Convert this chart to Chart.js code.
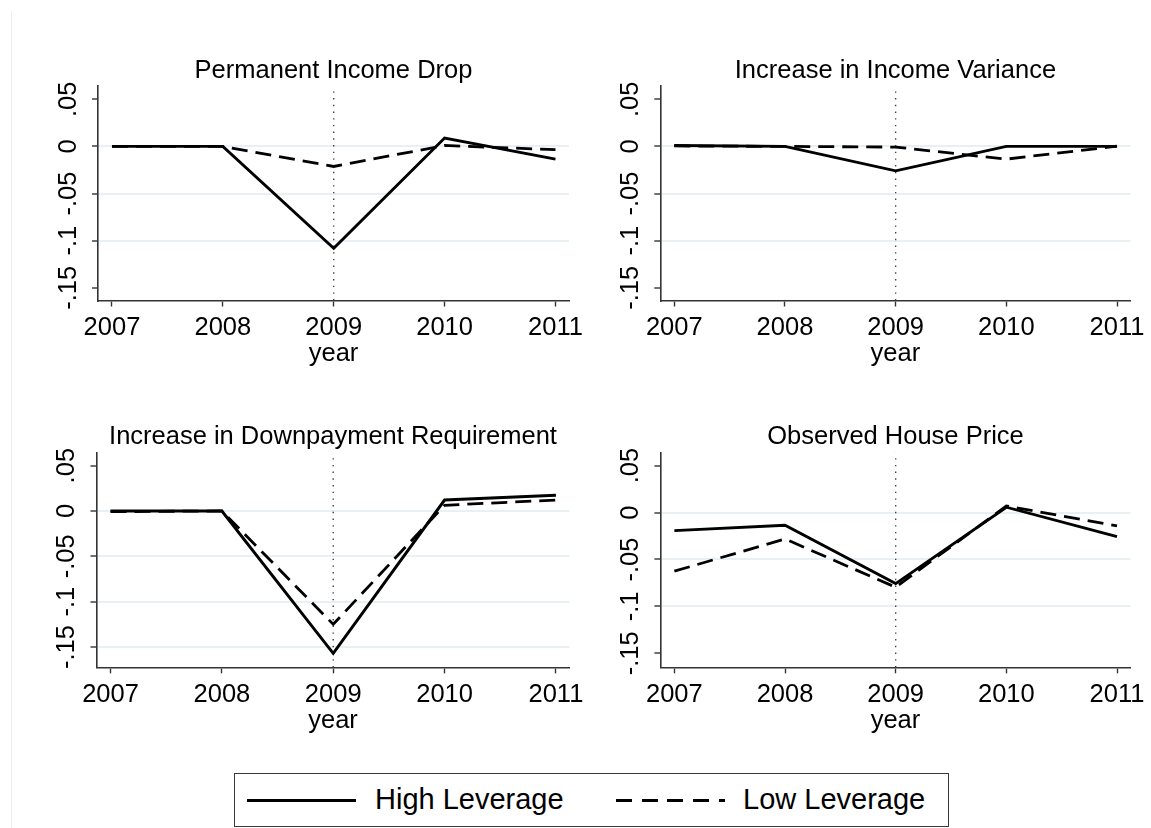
<!DOCTYPE html>
<html>
<head>
<meta charset="utf-8">
<title>Leverage panels</title>
<script src="https://cdn.jsdelivr.net/npm/chart.js@4.4.1/dist/chart.umd.min.js"></script>
<style>
  html, body { margin: 0; padding: 0; background: #fff; }
  #page {
    position: relative; width: 1151px; height: 828px; overflow: hidden;
    background: #fff; font-family: 'Liberation Sans', Arial, Helvetica, sans-serif;
  }
  canvas.panel { position: absolute; left: 0; top: 0; }
  #frame { position: absolute; left: 11px; top: 11px; height: 817px; border-left: 1px solid #e8eff2; }
  #legend {
    position: absolute; left: 234px; top: 773px; width: 715px; height: 54px;
    box-sizing: border-box; border: 1.5px solid #3a3a3a; background: #fff;
  }
  .key { position: absolute; height: 3px; top: 25px; }
  .key.solid { background: #000; }
  .key.dash { background: repeating-linear-gradient(90deg, #000 0 16px, transparent 16px 25.7px); }
  .lab { position: absolute; top: 11px; font-size: 29px; line-height: 29px; color: #000; white-space: nowrap; }
</style>
</head>
<body>
<div id="page">
  <div id="frame"></div>
  <canvas id="p0" class="panel" width="1151" height="828"></canvas>
  <canvas id="p1" class="panel" width="1151" height="828"></canvas>
  <canvas id="p2" class="panel" width="1151" height="828"></canvas>
  <canvas id="p3" class="panel" width="1151" height="828"></canvas>
  <div id="legend"></div>
</div>
<script>
// ---- values ----
const years = [2007, 2008, 2009, 2010, 2011];
const eventYear = 2009;
const xRange = [2006.874, 2011.122];
const yTickValues = [0.05, 0, -0.05, -0.1, -0.15];
const yTickLabels = ['.05', '0', '-.05', '-.1', '-.15'];
const seriesNames = ['High Leverage', 'Low Leverage'];
const panelTitles = [
  'Permanent Income Drop',
  'Increase in Income Variance',
  'Increase in Downpayment Requirement',
  'Observed House Price'
];

const highPermIncome = [0, 0, -0.108, 0.0089, -0.0135];
const lowPermIncome = [0, 0, -0.0213, 0.001, -0.0035];
const highIncomeVar = [0.001, 0, -0.0259, 0, 0];
const lowIncomeVar = [0.0005, 0, -0.0007, -0.0135, 0.0002];
const highDownpay = [0, 0, -0.157, 0.0121, 0.0173];
const lowDownpay = [-0.0007, 0, -0.125, 0.0063, 0.0121];
const highHousePrice = [-0.0192, -0.0135, -0.0757, 0.0057, -0.0256];
const lowHousePrice = [-0.0625, -0.0281, -0.0796, 0.0071, -0.0142];

const yRangePerm = [-0.1635, 0.0641];
const yRangeVar = [-0.1635, 0.0641];
const yRangeDown = [-0.1724, 0.0643];
const yRangeHouse = [-0.1649, 0.0638];

// gridlines are drawn only at interior ticks of each panel
const gridPerm = [0, -0.05, -0.1];
const gridVar = [0, -0.05, -0.1];
const gridDown = [0, -0.05, -0.1, -0.15];
const gridHouse = [0, -0.05, -0.1];

// ---- drawing ----
const FAMILY = "'Liberation Sans', Arial, Helvetica, sans-serif";
const W = 1151, H = 828;
const Y_AXIS_W = 60, X_AXIS_H = 70;

const panels = [
  { id: 'p0', title: panelTitles[0], high: highPermIncome, low: lowPermIncome, range: yRangePerm, grid: gridPerm,
    area: { left: 98, right: 569, top: 86, bottom: 300.5 } },
  { id: 'p1', title: panelTitles[1], high: highIncomeVar, low: lowIncomeVar, range: yRangeVar, grid: gridVar,
    area: { left: 660.3, right: 1132, top: 86, bottom: 300.5 } },
  { id: 'p2', title: panelTitles[2], high: highDownpay, low: lowDownpay, range: yRangeDown, grid: gridDown,
    area: { left: 96.5, right: 569.5, top: 452.7, bottom: 667.3 } },
  { id: 'p3', title: panelTitles[3], high: highHousePrice, low: lowHousePrice, range: yRangeHouse, grid: gridHouse,
    area: { left: 660.4, right: 1131.5, top: 452.7, bottom: 667.3 } }
];

// panel heading centred over the plot region
const panelTitle = {
  id: 'panelTitle',
  afterDraw(chart, args, opts) {
    const { ctx, chartArea } = chart;
    ctx.save();
    ctx.font = opts.size + 'px ' + FAMILY;
    ctx.fillStyle = '#000';
    ctx.textAlign = 'center';
    ctx.textBaseline = 'alphabetic';
    ctx.fillText(opts.text, (chartArea.left + chartArea.right) / 2, chartArea.top - opts.gap);
    ctx.restore();
  }
};

Chart.defaults.font.family = FAMILY;
Chart.defaults.color = '#000';

const toPoints = vals => years.map((yr, i) => ({ x: yr, y: vals[i] }));

panels.forEach(p => {
  const a = p.area;
  new Chart(document.getElementById(p.id), {
    type: 'line',
    data: {
      datasets: [
        {
          label: seriesNames[0], data: toPoints(p.high), order: 0,
          borderColor: '#000', borderWidth: 2.9, pointRadius: 0, tension: 0, fill: false
        },
        {
          label: seriesNames[1], data: toPoints(p.low), order: 1,
          borderColor: '#000', borderWidth: 2.8, borderDash: [16, 8], pointRadius: 0, tension: 0, fill: false
        },
        {
          label: 'event', data: [{ x: eventYear, y: p.range[0] }, { x: eventYear, y: p.range[1] }], order: 2,
          borderColor: '#444', borderWidth: 1.4, borderDash: [1.4, 5.3], pointRadius: 0, fill: false
        }
      ]
    },
    options: {
      responsive: false,
      animation: false,
      events: [],
      layout: {
        padding: {
          left: a.left - Y_AXIS_W,
          right: W - a.right,
          top: a.top,
          bottom: H - a.bottom - X_AXIS_H
        }
      },
      plugins: {
        legend: { display: false },
        tooltip: { enabled: false },
        title: { display: false },
        panelTitle: { text: p.title, size: 25.5, gap: 8.5 }
      },
      scales: {
        x: {
          type: 'linear',
          min: xRange[0], max: xRange[1],
          afterBuildTicks: s => { s.ticks = years.map(v => ({ value: v })); },
          afterFit: s => { s.height = X_AXIS_H; },
          ticks: {
            font: { size: 25.5 }, color: '#000', padding: 6,
            maxRotation: 0, minRotation: 0, autoSkip: false,
            callback: v => String(v)
          },
          grid: { drawOnChartArea: false, drawTicks: true, tickLength: 6, tickColor: '#333', tickWidth: 1.4 },
          border: { display: true, color: '#333', width: 1.6 },
          title: { display: true, text: 'year', font: { size: 25.5 }, color: '#000', padding: { top: 2, bottom: 1.5 } }
        },
        y: {
          type: 'linear',
          min: p.range[0], max: p.range[1],
          afterBuildTicks: s => { s.ticks = yTickValues.map(v => ({ value: v })); },
          afterFit: s => { s.width = Y_AXIS_W; },
          ticks: {
            font: { size: 25.5 }, color: '#000', padding: 1.5,
            minRotation: 90, maxRotation: 90, crossAlign: 'center', autoSkip: false,
            callback: v => {
              const i = yTickValues.findIndex(t => Math.abs(t - v) < 1e-9);
              return i >= 0 ? yTickLabels[i] : '';
            }
          },
          grid: {
            drawOnChartArea: true, drawTicks: true, tickLength: 6, tickColor: '#333', tickWidth: 1.4,
            lineWidth: 2,
            color: c => (c.tick && p.grid.some(g => Math.abs(g - c.tick.value) < 1e-9)) ? '#e9f0f3' : 'rgba(0,0,0,0)'
          },
          border: { display: true, color: '#333', width: 1.6 }
        }
      }
    },
    plugins: [panelTitle]
  });
});

// shared key below the panels
const legend = document.getElementById('legend');
const keyItems = [
  { cls: 'solid', keyLeft: 12, keyWidth: 109, textLeft: 140, name: seriesNames[0] },
  { cls: 'dash', keyLeft: 381, keyWidth: 109, textLeft: 508, name: seriesNames[1] }
];
keyItems.forEach(k => {
  const line = document.createElement('div');
  line.className = 'key ' + k.cls;
  line.style.left = k.keyLeft + 'px';
  line.style.width = k.keyWidth + 'px';
  legend.appendChild(line);
  const t = document.createElement('div');
  t.className = 'lab';
  t.style.left = k.textLeft + 'px';
  t.textContent = k.name;
  legend.appendChild(t);
});
</script>
</body>
</html>
